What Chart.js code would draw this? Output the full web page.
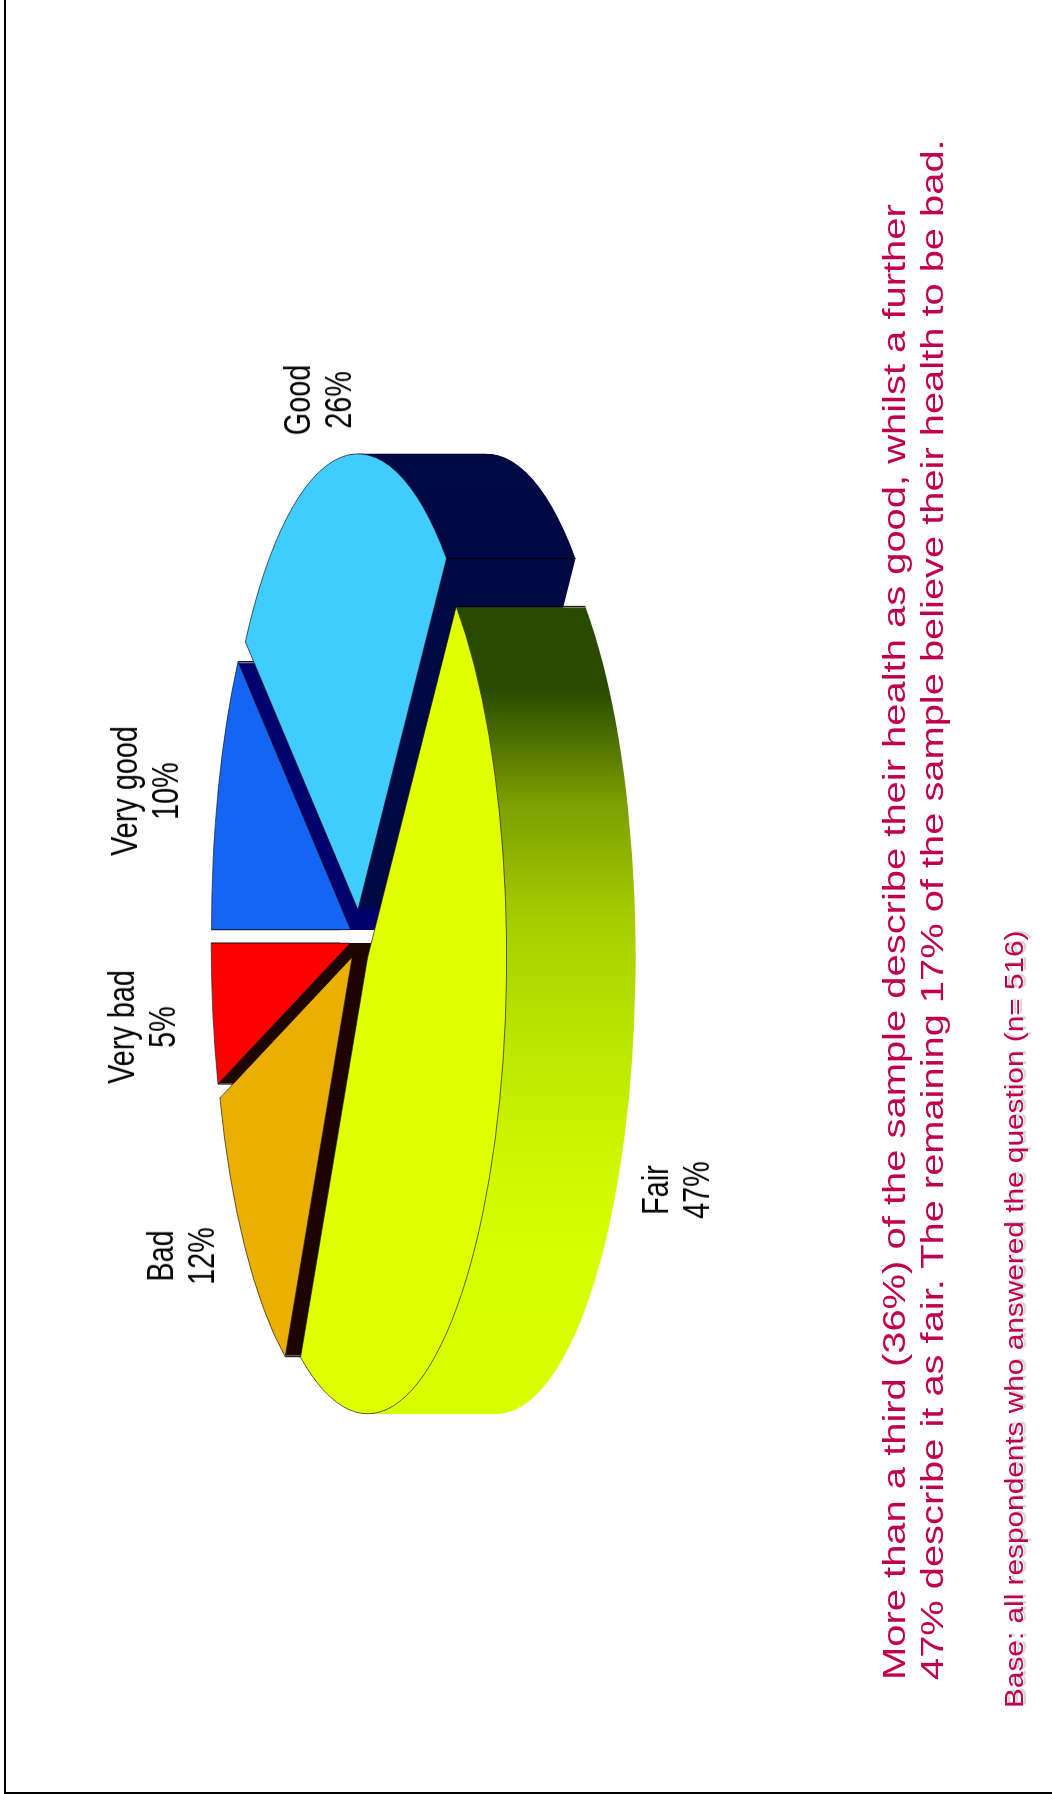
<!DOCTYPE html>
<html lang="en">
<head>
<meta charset="UTF-8">
<title>Self-rated health</title>
<script src="https://cdn.jsdelivr.net/npm/chart.js"></script>
<style>
    html, body { margin: 0; padding: 0; background: #fff; overflow: hidden; }
    /* the slide is sideways: everything is laid out flat and turned -90deg */
    #frame { position: absolute; left: 4px; top: 0; width: 1048px; height: 1794px; border-left: 2px solid #000; border-bottom: 2px solid #000; box-sizing: border-box; }
    #slide { position: absolute; left: 0; top: 0; width: 1794px; height: 1052px; transform-origin: 0 0; transform: translate(0, 1794px) rotate(-90deg); font-family: "Liberation Sans", Arial, sans-serif; }
    #slide canvas { position: absolute; left: 0; top: 0; }
    .label { position: absolute; color: #000; font-size: 36px; line-height: 41px; text-align: center; white-space: nowrap; transform: translateX(-50%) scaleX(.8); }
    .note { position: absolute; color: #c0004f; white-space: nowrap; transform-origin: 0 50%; }
</style>
</head>
<body>
<div id="frame"></div>
<div id="slide">
    <canvas id="pie" width="1794" height="1052"></canvas>
</div>
<script>
    const categories = ['Very good', 'Good', 'Fair', 'Bad', 'Very bad'];
    const values = [10, 26, 47, 12, 5];

    const topColors = ['#1565f5', '#40ccff', '#e0ff00', '#ebaf00', '#ff0000'];
    const wallColors = ['#00006e', '#000a45', null, '#1e0500', '#1e0500'];
    const fairWallStops = [[0, '#2a4a00'], [0.107, '#2a4a00'], [0.244, '#7a9e00'], [0.386, '#a5cc00'], [0.527, '#b8e400'], [0.669, '#cdf500'], [0.81, '#d6ff00'], [1, '#d8ff00']];
    const drawOrder = [4, 0, 3, 1, 2];
    const explode = [29, 29, 34, 29, 29];

    // [centre along the text, top of the block]
    const labelPlaces = [[1003, 104], [1394, 277], [604, 635], [538, 140], [767, 101]];

    const noteLines = [
        { text: 'More than a third (36%) of the sample describe their health as good, whilst a further', left: 114, baseline: 905, size: 32, width: 1476 },
        { text: '47% describe it as fair. The remaining 17% of the sample believe their health to be bad.', left: 114, baseline: 943, size: 32, width: 1540 },
        { text: 'Base: all respondents who answered the question (n= 516)', left: 86, baseline: 1023, size: 26, width: 778 }
    ];

    const pieX = 855.4, pieY = 359, pieRadius = 456;
    const squash = 0.305, depth = 129;

    const pie3d = {
        id: 'pie3d',
        beforeDatasetsDraw(chart) {
            const ctx = chart.ctx;
            const arcs = chart.getDatasetMeta(0).data;
            drawOrder.forEach(i => {
                const arc = arcs[i];
                const shown = arc.options;
                const mid = (arc.startAngle + arc.endAngle) / 2;
                const moveX = Math.cos(mid) * explode[i], moveY = Math.sin(mid) * explode[i];

                const place = drop => {
                    ctx.translate(pieX, pieY + drop);
                    ctx.scale(1, squash);
                    ctx.translate(moveX - arc.x, moveY - arc.y);
                };

                // side wall: the same slice stamped over and over going down
                let wall = wallColors[i];
                if (!wall) {
                    const shift = pieX + moveX - arc.x;
                    wall = ctx.createLinearGradient(1191 - shift, 0, 381 - shift, 0);
                    fairWallStops.forEach(s => wall.addColorStop(s[0], s[1]));
                }
                arc.options = Object.assign({}, shown, { backgroundColor: wall, borderWidth: 0 });
                for (let k = depth; k > 0; k--) {
                    ctx.save();
                    place(k);
                    arc.draw(ctx);
                    ctx.restore();
                }

                // dark line down the corners of the wall
                ctx.save();
                ctx.strokeStyle = '#000';
                ctx.lineWidth = 1;
                [arc.startAngle, arc.endAngle].forEach(a => {
                    const x = pieX + moveX + Math.cos(a) * pieRadius;
                    const y = pieY + (moveY + Math.sin(a) * pieRadius) * squash;
                    ctx.beginPath();
                    ctx.moveTo(x, y);
                    ctx.lineTo(x, y + depth);
                    ctx.stroke();
                });
                ctx.restore();

                arc.options = shown;
                ctx.save();
                place(0);
                arc.draw(ctx);
                ctx.restore();
            });
            return false;
        }
    };

    new Chart(document.getElementById('pie'), {
        type: 'pie',
        data: {
            labels: categories,
            datasets: [{
                data: values,
                backgroundColor: topColors,
                borderColor: '#111',
                borderWidth: 1
            }]
        },
        options: {
            responsive: false,
            animation: false,
            radius: pieRadius,
            plugins: { legend: { display: false }, tooltip: { enabled: false } }
        },
        plugins: [pie3d]
    });

    const slide = document.getElementById('slide');

    categories.forEach((name, i) => {
        const el = document.createElement('div');
        el.className = 'label';
        el.innerHTML = `${name}<br>${values[i]}%`;
        el.style.left = labelPlaces[i][0] + 'px';
        el.style.top = labelPlaces[i][1] + 'px';
        slide.appendChild(el);
    });

    noteLines.forEach(line => {
        const el = document.createElement('div');
        el.className = 'note';
        el.textContent = line.text;
        el.style.fontSize = line.size + 'px';
        el.style.lineHeight = line.size + 'px';
        el.style.left = line.left + 'px';
        el.style.top = (line.baseline - 0.8465 * line.size) + 'px';
        if (line.size < 30) el.style.textShadow = '1px 3px 1px #ccd4d4';
        slide.appendChild(el);
        el.style.transform = `scaleX(${line.width / el.offsetWidth})`;
    });
</script>
</body>
</html>
